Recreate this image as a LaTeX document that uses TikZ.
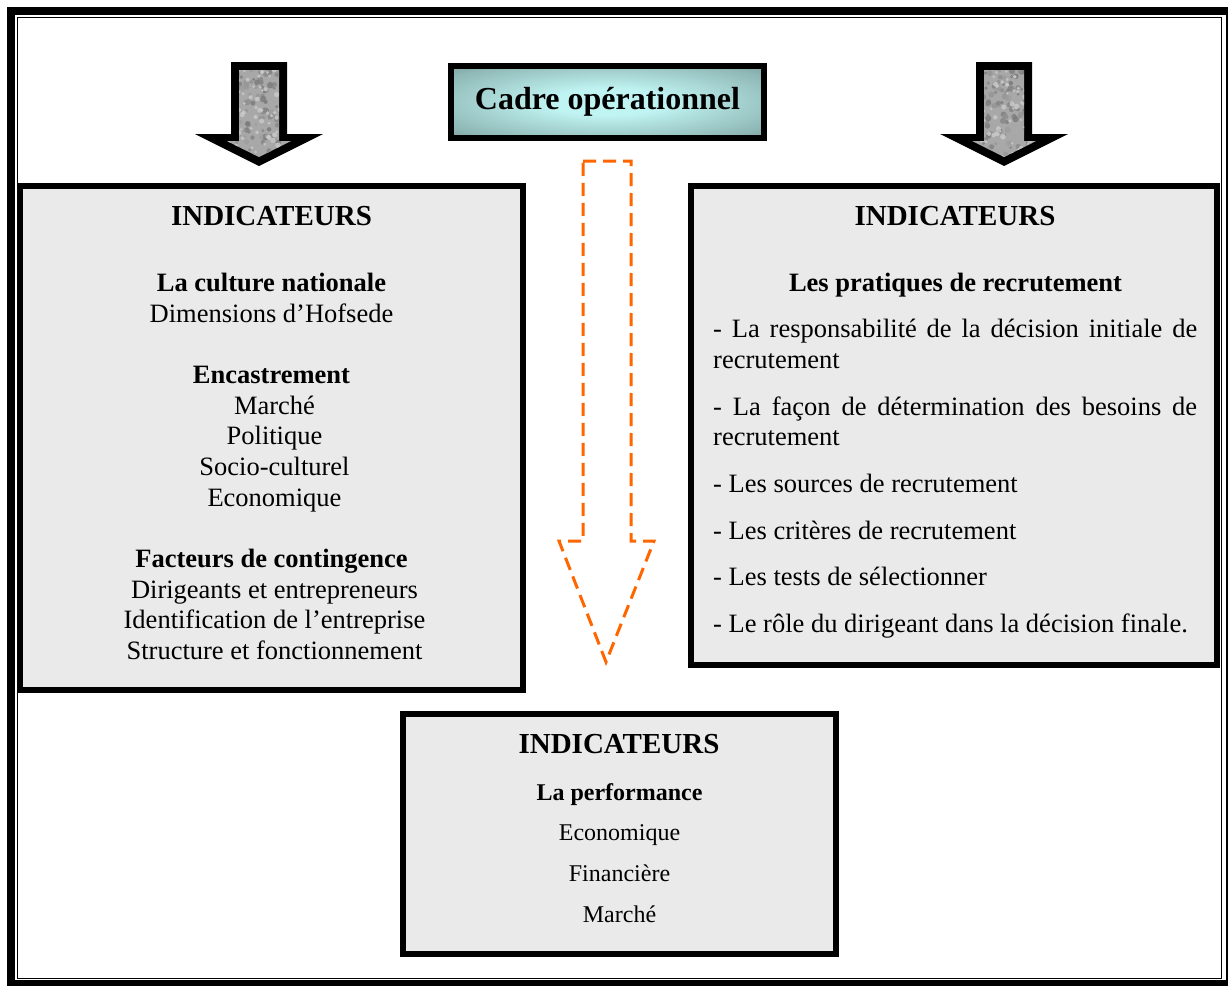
\documentclass[tikz,border=0pt]{standalone}
\usepackage{fontspec}
\setmainfont{Liberation Serif}
\definecolor{boxfill}{RGB}{234,234,234}
\definecolor{arrowfill}{RGB}{168,168,168}
\definecolor{tealedge}{RGB}{94,124,122}
\definecolor{tealmid}{RGB}{192,244,242}
\definecolor{dashorange}{RGB}{255,102,0}
\pgfdeclareradialshading{tealrad}{\pgfpoint{0bp}{0bp}}{color(0bp)=(tealmid); color(9bp)=(tealmid); color(30bp)=(tealedge!50!tealmid); color(46bp)=(tealedge); color(80bp)=(tealedge)}
\begin{document}
\begin{tikzpicture}[x=1pt,y=-1pt,
  indbox/.style={draw=black, line width=6pt, fill=boxfill, inner sep=0pt, outer sep=0pt},
  titlebox/.style={draw=black, line width=6pt, inner sep=0pt, outer sep=0pt, shading=tealrad},
  txt/.style={inner sep=0pt, anchor=base},
  hdr/.style={txt, font=\fontsize{29}{32}\selectfont\bfseries},
  lbody/.style={txt, font=\fontsize{26.5}{30}\selectfont},
  lbold/.style={txt, font=\fontsize{26.5}{30}\selectfont\bfseries},
  sbody/.style={txt, font=\fontsize{24}{28}\selectfont},
  sbold/.style={txt, font=\fontsize{24}{28}\selectfont\bfseries},
  ritem/.style={inner sep=0pt, anchor=base west, font=\fontsize{26.5}{30}\selectfont},
  ttl/.style={txt, font=\fontsize{32}{36}\selectfont\bfseries},
  dasharrow/.style={draw=dashorange, line width=3pt, dash pattern=on 13pt off 7pt, line join=miter}
]
\clip (0,0) rectangle (1228,985);
\fill[white] (0,0) rectangle (1228,985);
% double frame
\draw[line width=8pt] (11,11) rectangle (1230,984);
\draw[line width=1.6pt] (17.3,17.3) rectangle (1221.5,978.3);

% boxes
\node[indbox, minimum width=503.5pt, minimum height=503.5pt] (lbox) at (271.25,437.75) {};
\node[indbox, minimum width=526pt, minimum height=478.7pt] (rbox) at (954,425.35) {};
\node[indbox, minimum width=433pt, minimum height=240pt] (bbox) at (619.5,834) {};
\node[titlebox, minimum width=313pt, minimum height=72pt] (tbox) at (607.5,102) {};
\node[ttl] (tt) at (607.5,109) {Cadre opérationnel};

% gray block arrows
\pgfmathsetseed{11}
\foreach \dx in {0,745} {
 \begin{scope}[xshift=\dx pt]
  \fill[black] (231,62) -- (287,62) -- (287,134) -- (323,134) -- (259,166) -- (195,134) -- (231,134) -- cycle;
  \fill[arrowfill] (239,70) -- (279,70) -- (279,141) -- (291,141) -- (259,157) -- (227,141) -- (239,141) -- cycle;
  \begin{scope}
   \clip (239,70) -- (279,70) -- (279,141) -- (291,141) -- (259,157) -- (227,141) -- (239,141) -- cycle;
   \foreach \i in {1,...,120} {
     \pgfmathsetmacro{\px}{227+64*rnd}
     \pgfmathsetmacro{\py}{70+87*rnd}
     \pgfmathsetmacro{\sh}{38+16*rnd}
     \pgfmathsetmacro{\rr}{1.5+1.8*rnd}
     \fill[black!\sh, opacity=0.8] (\px,\py) circle[radius=\rr pt];
   }
   \foreach \i in {1,...,70} {
     \pgfmathsetmacro{\px}{227+64*rnd}
     \pgfmathsetmacro{\py}{70+87*rnd}
     \pgfmathsetmacro{\rr}{1.2+1.6*rnd}
     \fill[black!20, opacity=0.8] (\px,\py) circle[radius=\rr pt];
   }
  \end{scope}
 \end{scope}
}

% dashed orange arrow
\coordinate (dtip) at (606,662);
\draw[dasharrow] (583,161) -- (631,161) -- (631,541) -- (654,541) -- (dtip) -- (559,541) -- (583,541) -- cycle;

% left box text
\node[hdr] (lt) at (271.5,225) {INDICATEURS};
\node[lbold] (l1) at (271.5,291.5) {La culture nationale};
\node[lbody] (l2) at (271.5,322.2) {Dimensions d’Hofsede};
\node[lbold] (l3) at (271.5,383.5) {Encastrement};
\node[lbody] (l4) at (274.5,414.2) {Marché};
\node[lbody] (l5) at (274.5,444.8) {Politique};
\node[lbody] (l6) at (274.5,475.5) {Socio-culturel};
\node[lbody] (l7) at (274.5,506.2) {Economique};
\node[lbold] (l8) at (271.5,567.5) {Facteurs de contingence};
\node[lbody] (l9) at (274.5,598.2) {Dirigeants et entrepreneurs};
\node[lbody] (l10) at (274.5,628.8) {Identification de l’entreprise};
\node[lbody] (l11) at (274.5,659.5) {Structure et fonctionnement};

% right box text
\node[hdr] (rt) at (955,225) {INDICATEURS};
\node[lbold] (r0) at (955.5,291.5) {Les pratiques de recrutement};
\node[ritem] (r1) at (713,337) {\makebox[484pt][s]{- La responsabilité de la décision initiale de}};
\node[ritem] (r1b) at (713,368) {recrutement};
\node[ritem] (r2) at (713,415) {\makebox[484pt][s]{- La façon de détermination des besoins de}};
\node[ritem] (r2b) at (713,445) {recrutement};
\node[ritem] (r3) at (713,492) {- Les sources de recrutement};
\node[ritem] (r4) at (713,539) {- Les critères de recrutement};
\node[ritem] (r5) at (713,585) {- Les tests de sélectionner};
\node[ritem] (r6) at (713,632) {- Le rôle du dirigeant dans la décision finale.};

% bottom box text
\node[hdr] (bt) at (619,753) {INDICATEURS};
\node[sbold] (b1) at (619.5,800) {La performance};
\node[sbody] (b2) at (619.5,840.7) {Economique};
\node[sbody] (b3) at (619.5,881.5) {Financière};
\node[sbody] (b4) at (619.5,922) {Marché};
\end{tikzpicture}
\end{document}
